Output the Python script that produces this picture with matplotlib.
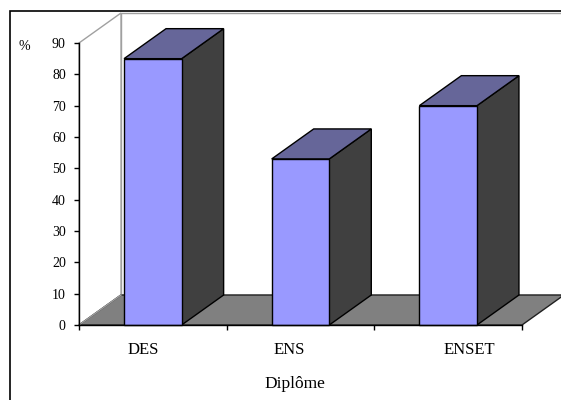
import matplotlib
matplotlib.use("Agg")
from matplotlib import pyplot as plt
from matplotlib.patches import Polygon, Rectangle

# pourcentage par diplôme
diplomes = ["DES", "ENS", "ENSET"]
pourcent = [85, 53, 70]
graduations = [0, 10, 20, 30, 40, 50, 60, 70, 80, 90]
# petits décalages horizontaux des libellés (pixels)
decalages = [-10, -11, 21]

FRONT = "#9999ff"
TOP = "#666699"
SIDE = "#404040"
FLOOR = "#808080"
WALL = "#a0a0a0"

plt.rcParams["font.family"] = ["Liberation Serif", "DejaVu Serif"]

fig = plt.figure(figsize=(5.61, 4.0), dpi=100)
ax = fig.add_axes([79 / 561, 75 / 400, 443 / 561, 282 / 400])
ax.set_xlim(-0.5, 2.5)
ax.set_ylim(0, 90)

# profondeur du décor 3D, convertie de pixels en unités de données
inv = ax.transData.inverted()
ox, oy = ax.transData.transform((0, 0))
dx, dy = inv.transform((ox + 42, oy + 30))

# murs et sol
left_wall = Polygon([(-0.5, 0), (-0.5, 90), (-0.5 + dx, 90 + dy), (-0.5 + dx, dy)],
                    closed=True, fc="white", ec=WALL, lw=1, clip_on=False, zorder=0.5)
back_wall = Polygon([(-0.5 + dx, dy), (-0.5 + dx, 90 + dy), (2.5 + dx, 90 + dy), (2.5 + dx, dy)],
                    closed=True, fc="white", ec=WALL, lw=1, clip_on=False, zorder=0.4)
floor = Polygon([(-0.5, 0), (2.5, 0), (2.5 + dx, dy), (-0.5 + dx, dy)],
                closed=True, fc=FLOOR, ec="#202020", lw=1, clip_on=False, zorder=0.6)
ax.add_patch(back_wall)
ax.add_patch(left_wall)
ax.add_patch(floor)
ax.plot([-0.5, -0.5 + dx], [0, dy], color=WALL, lw=1, clip_on=False, zorder=0.7)

# barres
w = 0.39
for i, v in enumerate(pourcent):
    x0, x1 = i - w / 2, i + w / 2
    side = Polygon([(x1, 0), (x1 + dx, dy), (x1 + dx, v + dy), (x1, v)],
                   closed=True, fc=SIDE, ec="black", lw=1, clip_on=False, zorder=3)
    top = Polygon([(x0, v), (x1, v), (x1 + dx, v + dy), (x0 + dx, v + dy)],
                  closed=True, fc=TOP, ec="black", lw=1, clip_on=False, zorder=3)
    front = Rectangle((x0, 0), w, v, fc=FRONT, ec="black", lw=1, clip_on=False, zorder=3.1)
    ax.add_patch(side)
    ax.add_patch(top)
    ax.add_patch(front)

# axes
for s in ["top", "right"]:
    ax.spines[s].set_visible(False)
ax.spines["left"].set_linewidth(1)
ax.spines["bottom"].set_linewidth(1)
ax.spines["left"].set_zorder(4)
ax.spines["bottom"].set_zorder(4)
ax.patch.set_visible(False)

ax.set_yticks(graduations)
ax.tick_params(axis="y", direction="out", length=3.5, width=1, pad=6, labelsize=10)
ax.set_xticks([-0.5, 0.5, 1.5, 2.5])
ax.set_xticklabels([])
ax.tick_params(axis="x", direction="out", length=3.5, width=1)

for i, (lab, d) in enumerate(zip(diplomes, decalages)):
    ax.annotate(lab, xy=(i, 0), xytext=(d, -25), textcoords="offset pixels",
                ha="center", va="center", fontsize=12, annotation_clip=False)

ax.annotate("Diplôme", xy=(1, 0), xytext=(-6, -59), textcoords="offset pixels",
            ha="center", va="center", fontsize=12.5, annotation_clip=False)
ax.annotate("%", xy=(-0.5, 90), xytext=(-55, -3), textcoords="offset pixels",
            ha="center", va="center", fontsize=10, annotation_clip=False)

# cadre du graphique
cadre = Rectangle((9.5 / 561, -0.1), 2, (400 - 10.5) / 400 + 0.1, transform=fig.transFigure,
                  fill=False, ec="black", lw=1.2)
fig.add_artist(cadre)

fig.savefig("out.png", dpi=100)
